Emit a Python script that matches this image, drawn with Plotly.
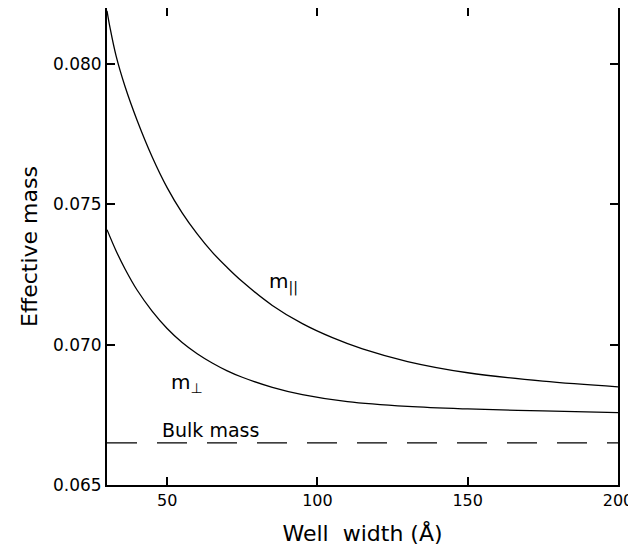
import plotly.graph_objects as go

# Well width (Å) and effective masses
width_par = [30, 31, 33, 36, 40, 45, 50, 55, 60, 65, 70, 75, 85, 95, 105, 115, 130, 150, 175, 200]
m_par = [0.0819, 0.0813, 0.0803, 0.0792, 0.0780, 0.0767, 0.0756, 0.07470, 0.07395, 0.07330,
         0.07275, 0.07225, 0.07140, 0.07075, 0.07025, 0.06985, 0.06940, 0.06900, 0.06870, 0.06850]

width_perp = [30, 33, 36, 40, 45, 50, 55, 60, 65, 70, 75, 85, 95, 110, 130, 150, 175, 200]
m_perp = [0.0741, 0.07335, 0.0727, 0.07195, 0.0712, 0.07058, 0.07008, 0.06968, 0.06935,
          0.06907, 0.06884, 0.06848, 0.06822, 0.06797, 0.06780, 0.06771, 0.06764, 0.06758]

bulk_x = [30, 200]
bulk_mass = [0.0665, 0.0665]

x_ticks = [50, 100, 150, 200]
y_ticks = [0.065, 0.070, 0.075, 0.080]
y_tick_text = ["0.065", "0.070", "0.075", "0.080"]

FONT = "DejaVu Sans"

fig = go.Figure()
fig.add_trace(go.Scatter(x=width_par, y=m_par, mode="lines",
                         line=dict(color="black", width=1.3, shape="spline", smoothing=1.0),
                         showlegend=False, hoverinfo="skip"))
fig.add_trace(go.Scatter(x=width_perp, y=m_perp, mode="lines",
                         line=dict(color="black", width=1.3, shape="spline", smoothing=1.0),
                         showlegend=False, hoverinfo="skip"))
fig.add_trace(go.Scatter(x=bulk_x, y=bulk_mass, mode="lines",
                         line=dict(color="black", width=1.3, dash="30px,20px"),
                         showlegend=False, hoverinfo="skip"))

fig.add_annotation(x=88.7, y=0.0722, text="m<sub>||</sub>", showarrow=False,
                   font=dict(family=FONT, size=20, color="black"))
fig.add_annotation(x=56.7, y=0.06864, text="m<sub>⊥</sub>", showarrow=False,
                   font=dict(family=FONT, size=20, color="black"))
fig.add_annotation(x=64.3, y=0.06695, text="Bulk mass", showarrow=False,
                   font=dict(family=FONT, size=19, color="black"))

fig.update_layout(
    width=628, height=538,
    margin=dict(l=99, r=18, t=0, b=61),
    paper_bgcolor="white", plot_bgcolor="white",
    font=dict(family=FONT, color="black", size=16),
    xaxis=dict(range=[30, 200], tickvals=x_ticks, ticks="inside", ticklen=8,
               tickwidth=1.5, tickcolor="black", showline=True, linecolor="black",
               linewidth=2, mirror="ticks", showgrid=False, zeroline=False,
               automargin=False, ticklabeloverflow="allow",
               title=dict(text="Well  width (Å)", font=dict(size=22), standoff=20),
               tickfont=dict(size=16)),
    yaxis=dict(range=[0.065, 0.082], tickvals=y_ticks, ticktext=y_tick_text,
               ticks="inside", ticklen=8, tickwidth=1.5, tickcolor="black",
               showline=True, linecolor="black", linewidth=2, mirror="ticks",
               showgrid=False, zeroline=False, automargin=False,
               title=dict(text="Effective mass", font=dict(size=22), standoff=9),
               tickfont=dict(size=17)),
)

fig.write_html("out.html")
